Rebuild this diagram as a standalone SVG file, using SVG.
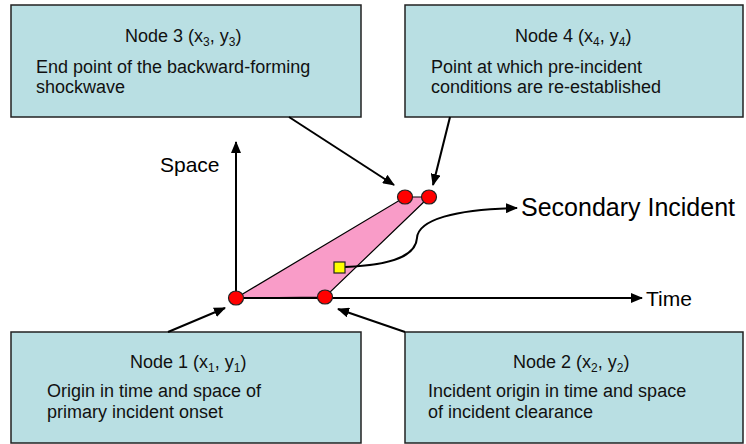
<svg xmlns="http://www.w3.org/2000/svg" width="746" height="444" viewBox="0 0 746 444">
<defs>
<marker id="ah" viewBox="0 0 12 10" refX="11" refY="5" markerWidth="12" markerHeight="10" markerUnits="userSpaceOnUse" orient="auto">
<path d="M0,0 L12,5 L0,10 Z" fill="#000"/>
</marker>
<style>
.box{fill:#B9DFE3;stroke:#222;stroke-width:1.5}
.t{font-family:"Liberation Sans",Arial,sans-serif;font-size:18px;fill:#111}
.sub{font-size:12px}
.lbl{font-family:"Liberation Sans",Arial,sans-serif;fill:#000}
.con{stroke:#000;stroke-width:2;fill:none}
.pt{fill:#FF0000;stroke:#222;stroke-width:1.2}
</style>
</defs>
<rect width="746" height="444" fill="#fff"/>

<g id="node3">
<rect class="box" x="11" y="5" width="350" height="112"/>
<text class="t" x="125" y="42">Node 3 (x<tspan class="sub" dy="4">3</tspan><tspan dy="-4">, y</tspan><tspan class="sub" dy="4">3</tspan><tspan dy="-4">)</tspan></text>
<text class="t" x="36" y="73">End point of the backward-forming</text>
<text class="t" x="36" y="93">shockwave</text>
</g>

<g id="node4">
<rect class="box" x="405" y="5" width="338" height="112"/>
<text class="t" x="515" y="42">Node 4 (x<tspan class="sub" dy="4">4</tspan><tspan dy="-4">, y</tspan><tspan class="sub" dy="4">4</tspan><tspan dy="-4">)</tspan></text>
<text class="t" x="431" y="73">Point at which pre-incident</text>
<text class="t" x="431" y="93">conditions are re-established</text>
</g>

<g id="node1">
<rect class="box" x="11" y="332" width="350" height="111"/>
<text class="t" x="130" y="368">Node 1 (x<tspan class="sub" dy="4">1</tspan><tspan dy="-4">, y</tspan><tspan class="sub" dy="4">1</tspan><tspan dy="-4">)</tspan></text>
<text class="t" x="47" y="397">Origin in time and space of</text>
<text class="t" x="47" y="418">primary incident onset</text>
</g>

<g id="node2">
<rect class="box" x="405" y="332" width="338" height="111"/>
<text class="t" x="513" y="368">Node 2 (x<tspan class="sub" dy="4">2</tspan><tspan dy="-4">, y</tspan><tspan class="sub" dy="4">2</tspan><tspan dy="-4">)</tspan></text>
<text class="t" x="428" y="397">Incident origin in time and space</text>
<text class="t" x="428" y="418">of incident clearance</text>
</g>

<g id="region">
<polygon points="236,298 405,197 429,197 325,297" fill="#F99CC8" stroke="#000" stroke-width="1.2"/>
</g>

<g id="connectors">
<line class="con" x1="236" y1="298" x2="236" y2="142" marker-end="url(#ah)"/>
<line class="con" x1="236" y1="298" x2="642" y2="298" marker-end="url(#ah)"/>
<line class="con" x1="289" y1="117" x2="394" y2="185" marker-end="url(#ah)"/>
<line class="con" x1="450" y1="117" x2="433" y2="185" marker-end="url(#ah)"/>
<line class="con" x1="168" y1="332" x2="225" y2="308" marker-end="url(#ah)"/>
<line class="con" x1="405" y1="332" x2="338" y2="309" marker-end="url(#ah)"/>
<path class="con" d="M345,267 C395,265 416,255 417,238 C418,220 455,209 517,208" marker-end="url(#ah)"/>
</g>

<g id="points">
<ellipse class="pt" cx="236" cy="298" rx="7.5" ry="7"/>
<ellipse class="pt" cx="325" cy="297" rx="7.5" ry="7"/>
<ellipse class="pt" cx="405" cy="197" rx="7.5" ry="7"/>
<ellipse class="pt" cx="429" cy="197" rx="7.5" ry="7"/>
<rect x="334" y="262" width="11" height="11" fill="#FFFF00" stroke="#222" stroke-width="1.2"/>
</g>

<g id="labels">
<text class="lbl" x="160" y="172" font-size="21">Space</text>
<text class="lbl" x="646" y="306" font-size="21">Time</text>
<text class="lbl" x="521" y="216" font-size="25">Secondary Incident</text>
</g>
</svg>
